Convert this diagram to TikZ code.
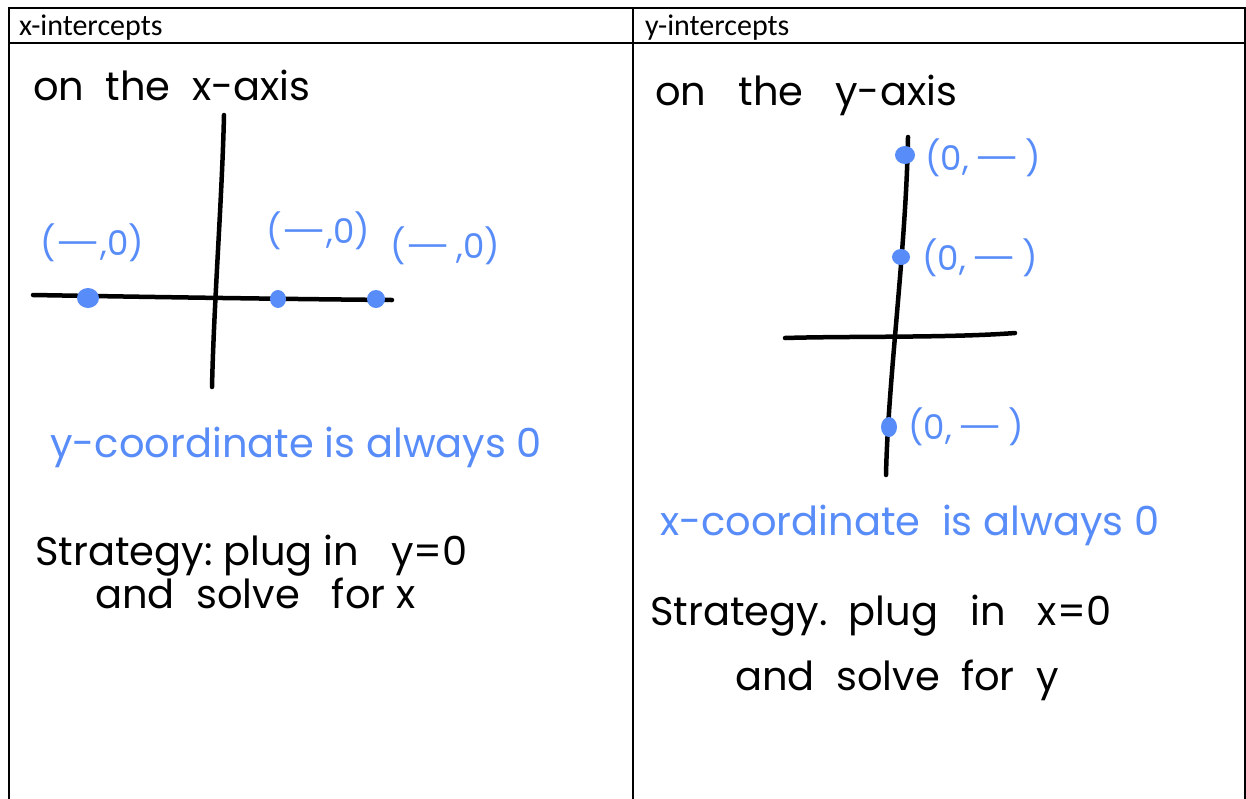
\documentclass[tikz,border=0pt]{standalone}
\usepackage{fontspec}
\setmainfont{Carlito}
\newfontfamily\hand{Poppins}
\definecolor{ink}{RGB}{88,140,248}
\newcommand{\longdash}{\scalebox{1.5}[1]{—}}
\tikzset{
  frame/.style={line width=1.6pt, black},
  axis/.style={line width=4.5pt, black, line cap=round},
  dot/.style={ink, fill=ink},
  head/.style={anchor=base west, font=\fontsize{30}{32}\selectfont, inner sep=0pt},
  hw/.style={anchor=base west, font=\hand\fontsize{40}{42}\selectfont, inner sep=0pt},
  hwblue/.style={hw, text=ink},
  lab/.style={anchor=base west, font=\hand\fontsize{34}{36}\selectfont, inner sep=0pt, text=ink},
}
\begin{document}
\begin{tikzpicture}[x=1pt,y=-1pt]
\useasboundingbox (0,0) rectangle (1246,798);
% table
\draw[frame] (9,805) -- (9,8) -- (1245,8) -- (1245,805);
\draw[frame] (9,43) -- (1245,43);
\draw[frame] (633,8) -- (633,805);
\node[head] (hx) at (19,35) {x-intercepts};
\node[head] (hy) at (645,35) {y-intercepts};

% left column
\node[hw] (t1) at (33,100) {on\ \ the\ \ x-axis};
\draw[axis] (224,115) .. controls (222,200) and (214,300) .. (212,387);
\draw[axis] (33,295) .. controls (150,297) and (280,299) .. (392,300);
\fill[dot] (88,298) ellipse (11 and 10);
\fill[dot] (278,299) ellipse (8 and 9);
\fill[dot] (376,299) ellipse (9 and 9);
\node[lab] (l1) at (40,255) {(\longdash,0)};
\node[lab] (l2) at (266,243) {(\longdash,0)};
\node[lab] (l3) at (390,258) {(\longdash\,,0)};
\node[hwblue] (b1) at (50,457) {y-coordinate\ is\ always\ 0};
\node[hw] (s1) at (35,565) {Strategy:\ plug\ in\ \ \ y=0};
\node[hw] (s2) at (95,608) {and\ \ solve\ \ \ for\ x};

% right column
\node[hw] (t2) at (655,105) {on\ \ \ the\ \ \ y-axis};
\draw[axis] (908,137) .. controls (906,250) and (888,380) .. (886,475);
\draw[axis] (785,338) .. controls (850,336) and (950,338) .. (1015,333);
\fill[dot] (905,155) ellipse (10 and 9);
\fill[dot] (901,257) ellipse (9 and 8);
\fill[dot] (889,427) ellipse (8 and 10);
\node[lab] (r1) at (925,170) {(0,\,\longdash\,)};
\node[lab] (r2) at (922,270) {(0,\,\longdash\,)};
\node[lab] (r3) at (908,439) {(0,\,\longdash\,)};
\node[hwblue] (b2) at (660,535) {x-coordinate\ \ is\ always\ 0};
\node[hw] (s3) at (650,625) {Strategy.\ \ plug\ \ \ in\ \ \ x=0};
\node[hw] (s4) at (735,690) {and\ \ solve\ \ for\ \ y};
\end{tikzpicture}
\end{document}
